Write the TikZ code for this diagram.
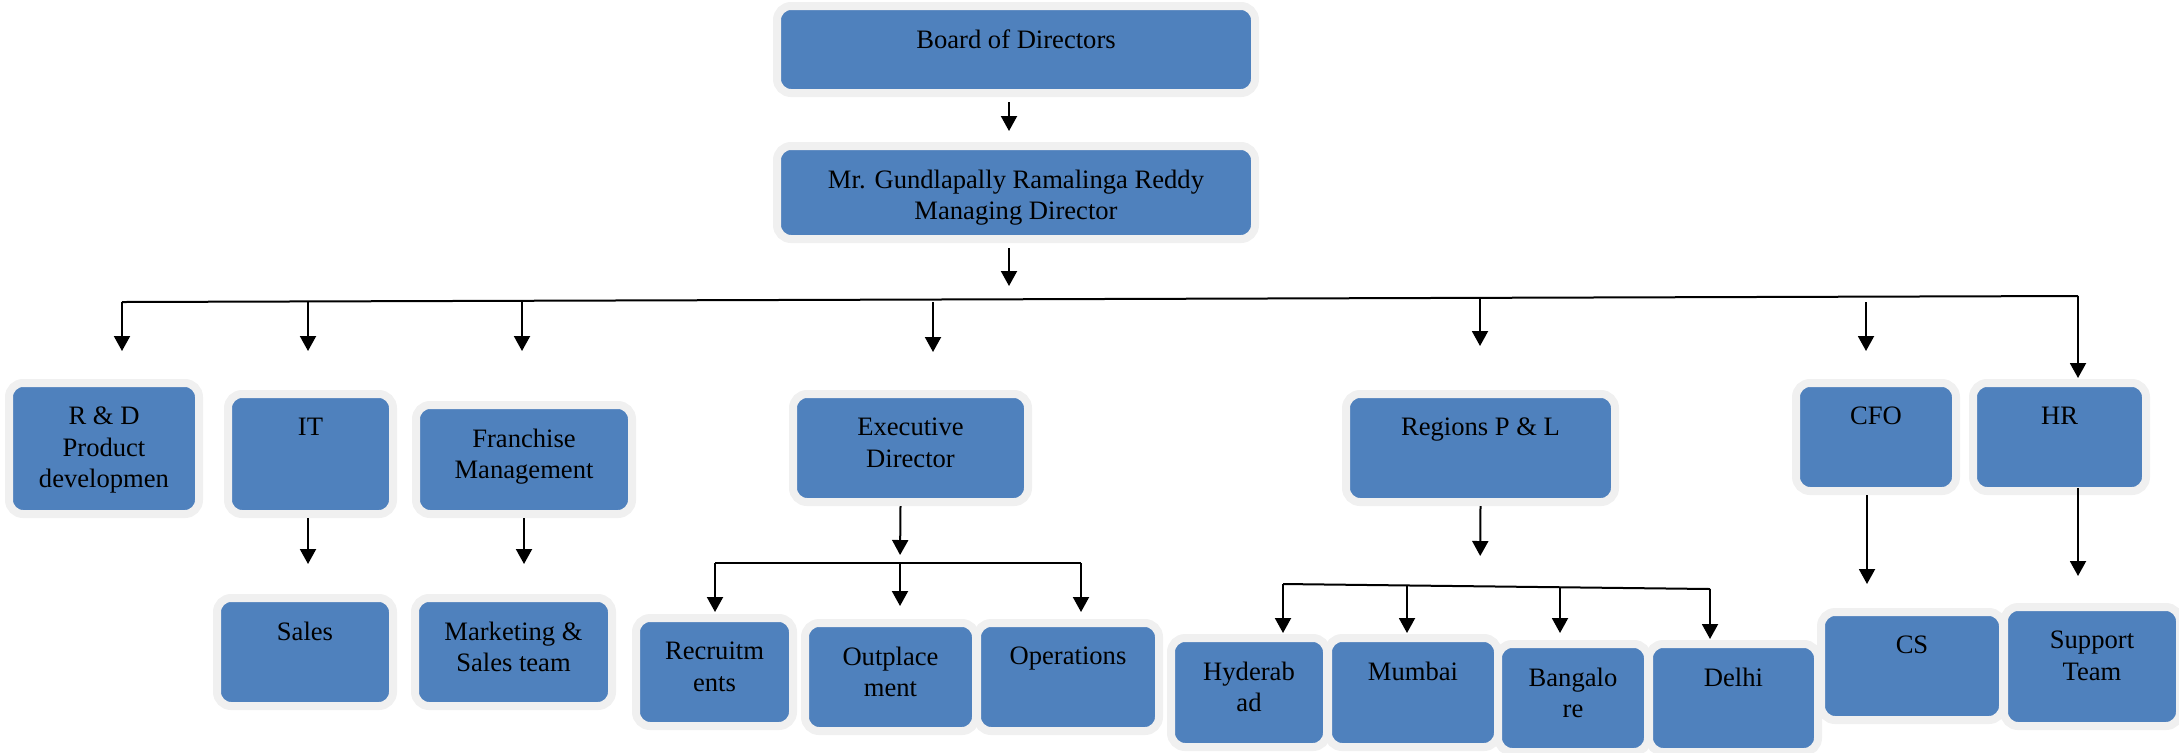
\documentclass[tikz,border=0pt]{standalone}
\usepackage{fontspec}
\setmainfont{Liberation Serif}
\usepackage{tikz}
\usepackage{xcolor}
\definecolor{org_blue}{HTML}{4F81BD}
\definecolor{org_gray}{HTML}{F0F0F0}
\usetikzlibrary{arrows.meta, positioning}

\begin{document}
\begin{tikzpicture}[x=0.5pt,y=-0.5pt,
    unit/.style={rectangle, rounded corners=7pt, fill=org_blue, draw=org_gray, line width=4pt, inner sep=0pt},
    lbl/.style={align=center, inner sep=0pt, font=\fontsize{13.3}{15.7}\selectfont},
    conn/.style={-{Triangle[width=8pt,length=7.5pt]}, line width=1pt},
    bus/.style={line width=1pt}]
    \useasboundingbox (0,0) rectangle (2179,752);
    %上段
    \node[unit, minimum width=239pt, minimum height=43.5pt] (bod) at (1016,49.5) {};
    \node[lbl, below=13.8pt of bod.north] (bod-t) {Board of Directors};
    \node[unit, minimum width=239pt, minimum height=46.5pt] (md) at (1016,192.5) {};
    \node[lbl, below=13.8pt of md.north] (md-t) {Mr. Gundlapally Ramalinga Reddy\\Managing Director};
    %部門
    \node[unit, minimum width=95pt, minimum height=65.5pt] (rnd) at (104,448.5) {};
    \node[lbl, below=13.8pt of rnd.north] (rnd-t) {R \& D\\Product\\developmen};
    \node[unit, minimum width=82.5pt, minimum height=60pt] (it) at (310.5,454) {};
    \node[lbl, below=13.8pt of it.north] (it-t) {IT};
    \node[unit, minimum width=108pt, minimum height=54.5pt] (fran) at (524,459.5) {};
    \node[lbl, below=13.8pt of fran.north] (fran-t) {Franchise\\Management};
    \node[unit, minimum width=117.5pt, minimum height=54pt] (exd) at (910.5,448) {};
    \node[lbl, below=13.8pt of exd.north] (exd-t) {Executive\\Director};
    \node[unit, minimum width=134.5pt, minimum height=54pt] (reg) at (1480.5,448) {};
    \node[lbl, below=13.8pt of reg.north] (reg-t) {Regions P \& L};
    \node[unit, minimum width=80pt, minimum height=54pt] (cfo) at (1876,437) {};
    \node[lbl, below=13.8pt of cfo.north] (cfo-t) {CFO};
    \node[unit, minimum width=86.5pt, minimum height=54pt] (hr) at (2059.5,437) {};
    \node[lbl, below=13.8pt of hr.north] (hr-t) {HR};
    %下段
    \node[unit, minimum width=88pt, minimum height=54pt] (sales) at (305,652) {};
    \node[lbl, below=13.8pt of sales.north] (sales-t) {Sales};
    \node[unit, minimum width=98.5pt, minimum height=54pt] (mkt) at (513.5,652) {};
    \node[lbl, below=13.8pt of mkt.north] (mkt-t) {Marketing \&\\Sales team};
    \node[unit, minimum width=78.5pt, minimum height=54pt] (rec) at (714.5,672) {};
    \node[lbl, below=13.8pt of rec.north] (rec-t) {Recruitm\\ents};
    \node[unit, minimum width=85.5pt, minimum height=54pt] (outp) at (890.5,677) {};
    \node[lbl, below=13.8pt of outp.north] (outp-t) {Outplace\\ment};
    \node[unit, minimum width=91pt, minimum height=54pt] (ops) at (1068,677) {};
    \node[lbl, below=13.8pt of ops.north] (ops-t) {Operations};
    \node[unit, minimum width=78pt, minimum height=54.5pt] (hyd) at (1249,692.5) {};
    \node[lbl, below=13.8pt of hyd.north] (hyd-t) {Hyderab\\ad};
    \node[unit, minimum width=85pt, minimum height=54.5pt] (mum) at (1413,692.5) {};
    \node[lbl, below=13.8pt of mum.north] (mum-t) {Mumbai};
    \node[unit, minimum width=75pt, minimum height=54pt] (blr) at (1573,698) {};
    \node[lbl, below=13.8pt of blr.north] (blr-t) {Bangalo\\re};
    \node[unit, minimum width=84.5pt, minimum height=54pt] (del) at (1733.5,698) {};
    \node[lbl, below=13.8pt of del.north] (del-t) {Delhi};
    \node[unit, minimum width=91pt, minimum height=54pt] (cs) at (1912,666) {};
    \node[lbl, below=13.8pt of cs.north] (cs-t) {CS};
    \node[unit, minimum width=88pt, minimum height=59.5pt] (sup) at (2092,666.5) {};
    \node[lbl, below=13.8pt of sup.north] (sup-t) {Support\\Team};
    %分岐点
    \coordinate (mdb) at (1009,286);
    \coordinate (busL) at (122,302);
    \coordinate (busR) at (2078,296);
    \coordinate (b-it) at (308,301);
    \coordinate (b-fran) at (522,301);
    \coordinate (b-exd) at (933,302);
    \coordinate (b-reg) at (1480,297);
    \coordinate (b-cfo) at (1866,302);
    \coordinate (eb) at (900,563);
    \coordinate (ebL) at (715,563);
    \coordinate (ebR) at (1081,563);
    \coordinate (rb) at (1480,586);
    \coordinate (rbL) at (1283,584);
    \coordinate (rbR) at (1710,589);
    \coordinate (rb-mum) at (1407,585);
    \coordinate (rb-blr) at (1560,587);
    %矢印
    \draw[conn, shorten <=2.5pt, shorten >=5.5pt] ([xshift=-3.5pt]bod.south) -- ([xshift=-3.5pt]md.north);
    \draw[conn, shorten <=2.5pt] ([xshift=-3.5pt]md.south) -- (mdb);
    \draw[bus] (busL) -- (busR);
    \draw[conn, shorten >=14pt] (busL) -- (busL |- rnd.north);
    \draw[conn, shorten >=19.5pt] (b-it) -- (b-it |- it.north);
    \draw[conn, shorten >=25pt] (b-fran) -- (b-fran |- fran.north);
    \draw[conn, shorten >=19pt] (b-exd) -- (b-exd |- exd.north);
    \draw[conn, shorten >=22pt] (b-reg) -- (b-reg |- reg.north);
    \draw[conn, shorten >=14pt] (b-cfo) -- (b-cfo |- cfo.north);
    \draw[conn, shorten >=0.5pt] (busR) -- (busR |- hr.north);
    \draw[conn, shorten >=15pt] ([xshift=-1.25pt]it.south) -- ([xshift=-1.25pt]it.south |- sales.north);
    \draw[conn, shorten >=15pt] (fran.south) -- (fran.south |- mkt.north);
    %執行役員の下
    \draw[conn, shorten >=4pt] ([xshift=-5pt]exd.south) -- (eb);
    \draw[bus] (ebL) -- (ebR);
    \draw[conn, shorten >=1pt] (ebL) -- (ebL |- rec.north);
    \draw[conn, shorten >=6.5pt] (eb) -- (eb |- outp.north);
    \draw[conn, shorten >=3.5pt] (ebR) -- (ebR |- ops.north);
    %地域の下
    \draw[conn, shorten >=15pt] (reg.south) -- (rb);
    \draw[bus] (rbL) -- (rbR);
    \draw[conn, shorten >=0.5pt] (rbL) -- (rbL |- hyd.north);
    \draw[conn, shorten >=0.5pt] (rb-mum) -- (rb-mum |- mum.north);
    \draw[conn, shorten >=3.5pt] (rb-blr) -- (rb-blr |- blr.north);
    \draw[conn, shorten >=0.5pt] (rbR) -- (rbR |- del.north);
    %CFO, HR
    \draw[conn, shorten >=12pt] ([xshift=-4.5pt]cfo.south) -- ([xshift=-4.5pt]cfo.south |- cs.north);
    \draw[conn, shorten <=-3.5pt, shorten >=13.5pt] ([xshift=9.25pt]hr.south) -- ([xshift=9.25pt]hr.south |- sup.north);
\end{tikzpicture}
\end{document}
